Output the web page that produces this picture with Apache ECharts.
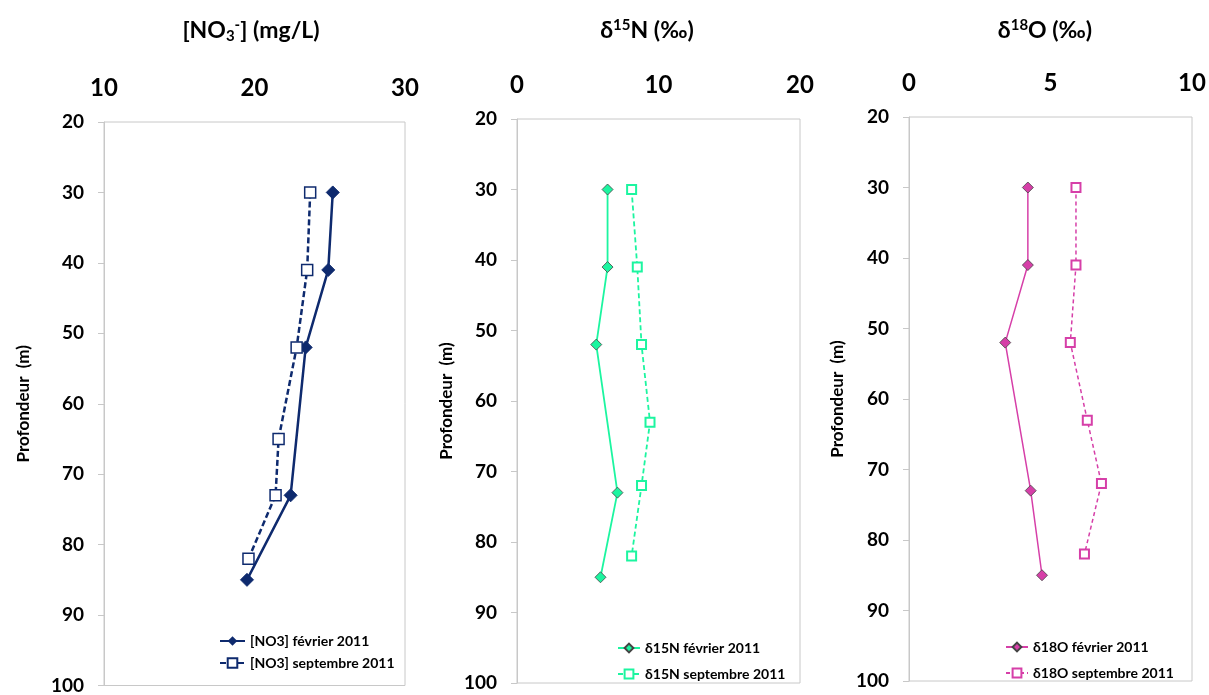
<!DOCTYPE html>
<html><head><meta charset="utf-8">
<script src="https://cdn.jsdelivr.net/npm/echarts@6/dist/echarts.min.js"></script>
<style>html,body{margin:0;padding:0;background:#fff}#c{width:1209px;height:695px}</style>
</head><body><div id="c"></div>
<script>
// Data
const depthFeb = [30, 41, 52, 73, 85];
const depthSep15 = [30, 41, 52, 63, 72, 82];
const depthSepNO3 = [30, 41, 52, 65, 73, 82];
const no3Feb = [25.2, 24.9, 23.4, 22.4, 19.5];
const no3Sep = [23.7, 23.5, 22.8, 21.6, 21.4, 19.6];
const d15Feb = [6.4, 6.4, 5.6, 7.1, 5.9];
const d15Sep = [8.1, 8.5, 8.8, 9.4, 8.8, 8.1];
const d18Feb = [4.2, 4.2, 3.4, 4.3, 4.7];
const d18Sep = [5.9, 5.9, 5.7, 6.3, 6.8, 6.2];
const names = ['[NO3] février 2011','[NO3] septembre 2011','δ15N février 2011','δ15N septembre 2011','δ18O février 2011','δ18O septembre 2011'];
const xRanges = [[10,30,10],[0,20,10],[0,10,5]];
const depthRange = [20,100,10];

const zip = (xs, ys) => xs.map((x,i)=>[x, ys[i]]);
const FONT = 'Lato';
const cNavy = '#0E2A6E', cGreen = '#1CF5A0', cPink = '#D63FA8';

const grids = [
  {left:104, top:122, width:301, height:564},
  {left:517, top:119, width:283, height:564},
  {left:909, top:117, width:283, height:564}
];
const nameGaps = [72, 62, 63];

const bold = (size) => ({fontFamily:FONT, fontWeight:'bold', fontSize:size, color:'#000'});
const chart = echarts.init(document.getElementById('c'));
const option = {
  backgroundColor:'#fff',
  animation:false,
  title:[
    {text:'{b|[NO}{sub|3}{sup|-}{b|] (mg/L)}', left:246, top:13, textAlign:'center',
     textStyle:{rich:{b:bold(23),
       sub:Object.assign(bold(15),{padding:[11,0,0,0]}),
       sup:Object.assign(bold(15),{padding:[0,0,11,0]})}}},
    {text:'{b|δ}{sup|15}{b|N (‰)}', left:642, top:13, textAlign:'center',
     textStyle:{rich:{b:bold(23), sup:Object.assign(bold(15),{padding:[0,0,11,0]})}}},
    {text:'{b|δ}{sup|18}{b|O (‰)}', left:1040, top:13, textAlign:'center',
     textStyle:{rich:{b:bold(23), sup:Object.assign(bold(15),{padding:[0,0,11,0]})}}}
  ],
  grid: grids.map(g=>Object.assign({show:true, borderColor:'#c8c8c8', borderWidth:1, backgroundColor:'#fff'}, g)),
  xAxis: xRanges.map((r,i)=>({
    type:'value', gridIndex:i, position:'top', min:r[0], max:r[1], interval:r[2],
    axisLine:{show:false}, axisTick:{show:false}, splitLine:{show:false},
    axisLabel:Object.assign(bold(24), {margin:22})
  })),
  yAxis: grids.map((g,i)=>({
    type:'value', gridIndex:i, inverse:true, min:depthRange[0], max:depthRange[1], interval:depthRange[2],
    name:'Profondeur  (m)', nameLocation:'middle', nameGap:nameGaps[i], nameRotate:90,
    nameTextStyle:bold(17),
    axisLine:{show:true, lineStyle:{color:'#c8c8c8'}},
    axisTick:{show:true, inside:false, length:6, lineStyle:{color:'#c8c8c8'}},
    splitLine:{show:false},
    axisLabel:Object.assign(bold(19), {margin:20})
  })),
  legend:[
    {data:[names[0],names[1]], orient:'vertical', left:214, top:629, itemGap:8, itemWidth:25, itemHeight:12,
     textStyle:bold(14)},
    {data:[names[2],names[3]], orient:'vertical', left:612, top:636, itemGap:12, itemWidth:22, itemHeight:11,
     textStyle:bold(14)},
    {data:[names[4],names[5]], orient:'vertical', left:1000, top:635, itemGap:12, itemWidth:22, itemHeight:11,
     textStyle:bold(14)}
  ],
  series:[
    {name:names[0], type:'line', xAxisIndex:0, yAxisIndex:0, data:zip(no3Feb, depthFeb),
     symbol:'diamond', symbolSize:13, lineStyle:{color:cNavy, width:2.5},
     itemStyle:{color:cNavy, borderColor:cNavy}},
    {name:names[1], type:'line', xAxisIndex:0, yAxisIndex:0, data:zip(no3Sep, depthSepNO3),
     symbol:'rect', symbolSize:11, lineStyle:{color:cNavy, width:2.5, type:[6,3]},
     itemStyle:{color:'#fff', borderColor:cNavy, borderWidth:1.5}},
    {name:names[2], type:'line', xAxisIndex:1, yAxisIndex:1, data:zip(d15Feb, depthFeb),
     symbol:'diamond', symbolSize:11, lineStyle:{color:cGreen, width:1.8},
     itemStyle:{color:cGreen, borderColor:'#444', borderWidth:0.8}},
    {name:names[3], type:'line', xAxisIndex:1, yAxisIndex:1, data:zip(d15Sep, depthSep15),
     symbol:'rect', symbolSize:9, lineStyle:{color:cGreen, width:1.8, type:[5,3]},
     itemStyle:{color:'#fff', borderColor:cGreen, borderWidth:2}},
    {name:names[4], type:'line', xAxisIndex:2, yAxisIndex:2, data:zip(d18Feb, depthFeb),
     symbol:'diamond', symbolSize:11, lineStyle:{color:cPink, width:1.5},
     itemStyle:{color:cPink, borderColor:'#444', borderWidth:0.8}},
    {name:names[5], type:'line', xAxisIndex:2, yAxisIndex:2, data:zip(d18Sep, depthSep15),
     symbol:'rect', symbolSize:9, lineStyle:{color:cPink, width:1.5, type:[4,3]},
     itemStyle:{color:'#fff', borderColor:cPink, borderWidth:2}}
  ]
};
chart.setOption(option);
</script>
</body></html>
